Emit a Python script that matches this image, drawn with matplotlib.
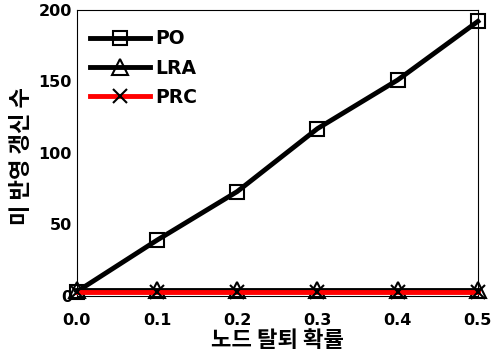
import numpy as np
import matplotlib
matplotlib.use("Agg")
import matplotlib.pyplot as plt

plt.rcParams['font.family'] = ['Noto Sans CJK KR', 'DejaVu Sans']

x = [0.0, 0.1, 0.2, 0.3, 0.4, 0.5]
po = [3, 39, 73, 117, 151, 192]
lra = [4, 4, 4, 4, 4, 4]
prc = [3, 3, 3, 3, 3, 3]
xticks = ['0.0', '0.1', '0.2', '0.3', '0.4', '0.5']
yticks = [0, 50, 100, 150, 200]

fig = plt.figure(figsize=(5.02, 3.54), dpi=100)
ax = fig.add_axes([0.153, 0.164, 0.799, 0.808])

ax.plot(x, po, color='black', lw=3.5, marker='s', ms=10, mfc='none',
        mec='black', mew=1.5, label='PO', clip_on=False, zorder=3)
ax.plot(x, lra, color='black', lw=3.5, marker='^', ms=11, mfc='none',
        mec='black', mew=1.5, label='LRA', clip_on=False, zorder=3)
ax.plot(x, prc, color='#ff0000', lw=3.5, marker='x', ms=10,
        mec='black', mew=1.5, label='PRC', clip_on=False, zorder=4)

ax.set_xlim(0, 0.5)
ax.set_ylim(0, 200)
ax.set_xticks(x)
ax.set_xticklabels(xticks)
ax.set_yticks(yticks)
ax.tick_params(axis='x', length=0, pad=12)
ax.tick_params(axis='y', length=0, pad=3.5)
for lab in ax.get_xticklabels() + ax.get_yticklabels():
    lab.set_fontfamily('DejaVu Sans')
    lab.set_fontweight('bold')
    lab.set_fontsize(11.5)

ax.set_xlabel('노드 탈퇴 확률', fontsize=16, fontweight='bold')
ax.xaxis.set_label_coords(0.5, -0.115)
ax.xaxis.label.set_va('top')
ax.set_ylabel('미 반영 갱신 수', fontsize=16, fontweight='bold')
ax.yaxis.set_label_coords(-0.137, 0.49)
ax.yaxis.label.set_va('center')

leg = ax.legend(loc='upper left', bbox_to_anchor=(0.014, 0.958), frameon=False,
                handlelength=3.2, handletextpad=0.3, labelspacing=0.55,
                borderaxespad=0,
                prop={'family': 'DejaVu Sans', 'weight': 'bold', 'size': 13.5})

fig.savefig('out.png', dpi=100)
